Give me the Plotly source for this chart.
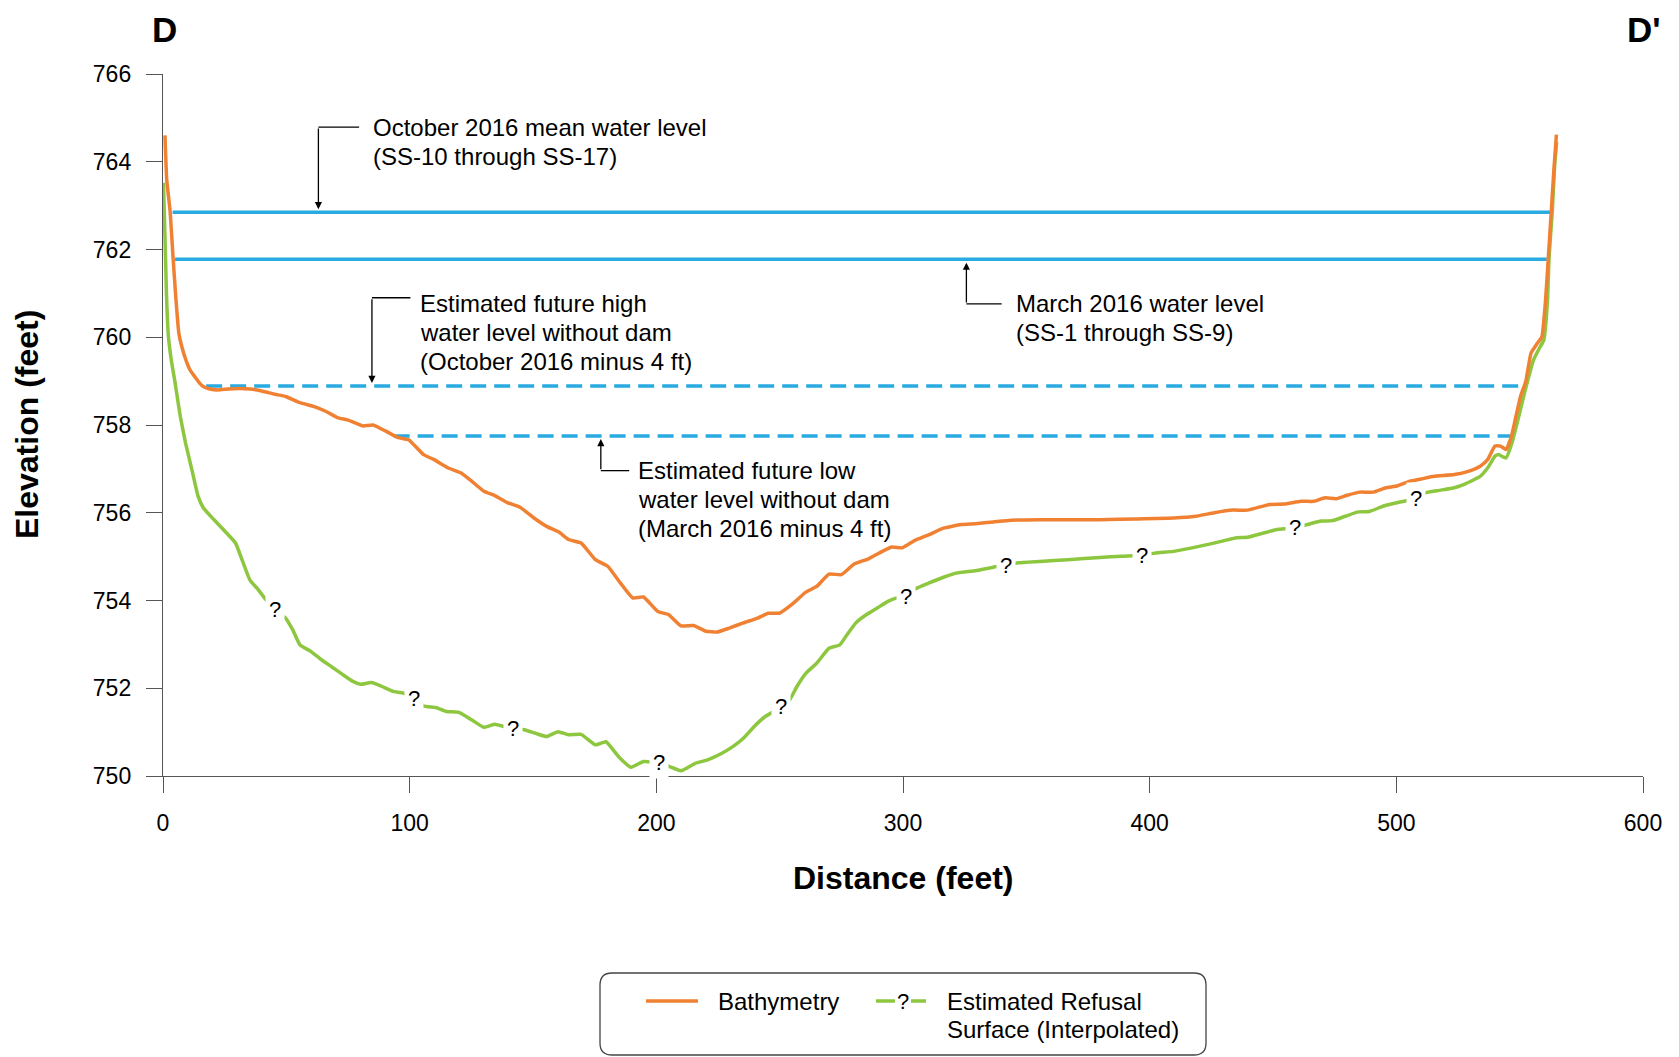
import plotly.graph_objects as go

# ---------------- data ----------------
bathy_x = [0.8, 1.5, 2.9, 4.1, 5.2, 6.4, 7.8, 9.3, 11.0, 12.9, 14.9, 16.5, 19.0, 22.3, 26.5, 31.0, 35.2,
           39.6, 45.4, 49.7, 55.5, 61.3, 65.7, 70.7, 75.1, 80.9, 85.2, 90.3, 95.4, 99.7, 105.5, 109.9,
           115.7, 120.7, 125.1, 130.1, 134.5, 139.6, 144.6, 150.4, 155.5, 160.5, 164.4, 169.5, 175.3,
           180.3, 185.4, 190.4, 194.8, 200.6, 204.9, 210.0, 215.1, 220.1, 224.5, 229.5, 235.3, 241.1,
           245.4, 249.8, 255.6, 260.6, 265.0, 270.0, 275.1, 280.2, 286.0, 290.3, 295.4, 299.7, 304.8,
           310.6, 316.4, 323.6, 329.4, 336.6, 343.8, 355.4, 369.9, 379.8, 394.8, 409.7, 418.7, 426.2,
           433.7, 439.7, 448.7, 454.6, 461.4, 466.6, 471.1, 475.6, 480.1, 485.3, 490.6, 495.8, 500.3,
           505.5, 510.0, 515.3, 523.5, 529.5, 534.0, 537.0, 540.0, 542.2, 544.5, 546.7, 548.5, 550.4,
           552.5, 554.6, 557.0, 559.0, 560.5, 561.6, 562.8, 564.0, 564.9]
bathy_y = [764.6, 763.6, 762.86, 761.8, 760.9, 760.1, 759.75, 759.48, 759.25, 759.10, 758.95, 758.87,
           758.82, 758.80, 758.82, 758.83, 758.82, 758.78, 758.70, 758.65, 758.51, 758.42, 758.32,
           758.17, 758.11, 757.98, 758.0, 757.86, 757.71, 757.66, 757.33, 757.21, 757.02, 756.91,
           756.72, 756.49, 756.39, 756.23, 756.13, 755.88, 755.69, 755.56, 755.39, 755.31, 754.93,
           754.78, 754.40, 754.06, 754.08, 753.75, 753.68, 753.42, 753.43, 753.30, 753.28, 753.37,
           753.49, 753.60, 753.71, 753.71, 753.94, 754.19, 754.32, 754.60, 754.59, 754.83, 754.95,
           755.08, 755.22, 755.20, 755.37, 755.50, 755.65, 755.73, 755.75, 755.79, 755.83, 755.84,
           755.84, 755.84, 755.86, 755.88, 755.92, 756.0, 756.06, 756.06, 756.19, 756.20, 756.26,
           756.26, 756.34, 756.32, 756.40, 756.47, 756.47, 756.57, 756.61, 756.72, 756.77, 756.83,
           756.87, 756.95, 757.06, 757.21, 757.52, 757.52, 757.44, 757.75, 758.2, 758.66, 759.0,
           759.64, 759.85, 760.01, 760.85, 761.80, 762.86, 763.92, 764.62]

refusal_x = [0.2, 0.8, 1.4, 2.1, 3.3, 4.8, 7.0, 9.1, 12.0, 14.2, 16.4, 20.7, 25.1, 29.4, 32.3, 35.2, 38.1,
             41.7, 45.4, 49.7, 52.6, 55.5, 59.9, 64.2, 68.6, 72.9, 77.2, 80.1, 84.5, 88.8, 93.2, 97.5,
             101.9, 105.5, 110.6, 114.9, 120.0, 125.1, 130.1, 134.5, 138.1, 142.0, 146.8, 151.2, 155.5,
             160.1, 164.4, 169.5, 175.3, 179.6, 184.7, 189.7, 194.8, 201.0, 205.6, 210.0, 215.8, 220.8,
             226.6, 231.0, 235.3, 239.7, 244.0, 247.6, 250.5, 254.1, 257.0, 260.6, 265.0, 270.0, 274.4,
             277.3, 280.9, 285.2, 289.6, 293.9, 297.5, 301.2, 304.8, 310.6, 316.4, 322.1, 329.4, 336.6,
             341.7, 346.7, 355.4, 367.0, 379.8, 388.8, 397.0, 402.2, 409.7, 417.2, 424.7, 430.7, 435.2,
             439.7, 445.7, 451.6, 456.1, 459.1, 465.1, 469.6, 474.1, 479.3, 484.6, 489.1, 495.1, 501.0,
             507.8, 511.5, 517.5, 523.5, 528.0, 534.0, 537.0, 540.0, 541.5, 543.0, 544.5, 546.7, 549.0,
             552.0, 555.6, 558.0, 559.8, 561.3, 561.9, 563.2, 564.2, 565.0]
refusal_y = [763.52, 762.3, 761.0, 760.09, 759.5, 759.0, 758.2, 757.6, 756.91, 756.38, 756.11, 755.84,
             755.58, 755.31, 754.89, 754.47, 754.28, 754.02, 753.79, 753.60, 753.33, 752.99, 752.84,
             752.65, 752.48, 752.31, 752.15, 752.09, 752.13, 752.04, 751.93, 751.89, 751.77, 751.60,
             751.56, 751.47, 751.45, 751.28, 751.11, 751.18, 751.13, 751.09, 751.05, 750.97, 750.90,
             751.01, 750.94, 750.95, 750.71, 750.78, 750.44, 750.20, 750.33, 750.30, 750.21, 750.12,
             750.29, 750.37, 750.52, 750.67, 750.86, 751.13, 751.35, 751.47, 751.58, 751.74, 752.04,
             752.34, 752.57, 752.91, 752.99, 753.22, 753.49, 753.68, 753.83, 753.98, 754.06, 754.10,
             754.26, 754.40, 754.53, 754.63, 754.68, 754.76, 754.80, 754.86, 754.89, 754.93, 754.98,
             755.01, 755.03, 755.08, 755.12, 755.20, 755.29, 755.37, 755.43, 755.44, 755.53, 755.62,
             755.64, 755.66, 755.75, 755.81, 755.82, 755.92, 756.02, 756.03, 756.16, 756.24, 756.32,
             756.45, 756.51, 756.57, 756.66, 756.83, 757.02, 757.29, 757.33, 757.28, 757.25, 757.56,
             758.05, 758.74, 759.48, 759.75, 759.94, 760.85, 761.80, 762.86, 763.92, 764.45]

# "?" positions on the refusal surface
qmark_x = [45.4, 101.9, 142.0, 201.0, 250.5, 301.2, 341.7, 397.0, 459.1, 507.8]
qmark_y = [753.79, 751.77, 751.09, 750.30, 751.58, 754.10, 754.80, 755.03, 755.66, 756.32]

# water levels: name, elevation, start distance, end distance, dashed
level_names = ["October 2016 mean", "March 2016", "Future high", "Future low"]
level_elev = [762.85, 761.78, 758.89, 757.75]
level_x0 = [3.9, 4.9, 17.5, 93.5]
level_x1 = [562.5, 561.0, 551.6, 546.3]
level_dash = [False, False, True, True]

x_ticks = [0, 100, 200, 300, 400, 500, 600]
y_ticks = [750, 752, 754, 756, 758, 760, 762, 764, 766]

# callouts: arrow x, arrow tip y, elbow y, elbow end x, text x, text lines
call_arrow_x = [63.0, 325.7, 84.7, 177.5]
call_tip_y = [762.92, 761.70, 758.96, 757.68]
call_elbow_y = [764.79, 760.76, 760.90, 756.96]
call_end_x = [79.5, 340.0, 100.3, 189.0]
call_text_x = [84.2, 344.8, 103.3, 191.9]
call_text_y = [764.78, 760.76, 760.76, 756.96]
call_texts = [
    ["October 2016 mean water level", "(SS-10 through SS-17)"],
    ["March 2016 water level", "(SS-1 through SS-9)"],
    ["Estimated future high", "water level without dam", "(October 2016 minus 4 ft)"],
    ["Estimated future low", "water level without dam", "(March 2016 minus 4 ft)"],
]

# ---------------- style ----------------
ORANGE = "#F08132"
GREEN = "#8DC63F"
BLUE = "#29ABE2"
FONT = "Liberation Sans, Arial, Helvetica, sans-serif"
W, H = 1679, 1057
S = 8  # page body margin offset
L, R, T, B = 163 - S, 1643 - S, 74 - S, 776 - S


def px(xp):
    return (xp - S - L) / (R - L)


def py(yp):
    return 1 - (yp - S - T) / (B - T)


fig = go.Figure()

for name, e, x0, x1, d in zip(level_names, level_elev, level_x0, level_x1, level_dash):
    fig.add_trace(go.Scatter(
        x=[x0, x1], y=[e, e], mode="lines", name=name, hoverinfo="skip",
        line=dict(color=BLUE, width=3.5, dash="16px,8px" if d else "solid"),
        showlegend=False))

fig.add_trace(go.Scatter(
    x=refusal_x, y=refusal_y, mode="lines", name="Estimated Refusal Surface (Interpolated)",
    line=dict(color=GREEN, width=3.5, shape="spline", smoothing=0.4), showlegend=False))
fig.add_trace(go.Scatter(
    x=bathy_x, y=bathy_y, mode="lines", name="Bathymetry",
    line=dict(color=ORANGE, width=3.5, shape="spline", smoothing=0.4), showlegend=False))

annotations = []
shapes = []

# question marks on refusal surface
for qx, qy in zip(qmark_x, qmark_y):
    annotations.append(dict(x=qx, y=qy, xref="x", yref="y", text="?", showarrow=False,
                            font=dict(family=FONT, size=22, color="black"),
                            bgcolor="white", borderpad=3, xanchor="center", yanchor="middle"))

# callouts
for ax_, tip, elb, ex, tx, ty, lines in zip(call_arrow_x, call_tip_y, call_elbow_y, call_end_x,
                                             call_text_x, call_text_y, call_texts):
    annotations.append(dict(x=ax_, y=tip, ax=ax_, ay=elb, xref="x", yref="y", axref="x", ayref="y",
                            text="", showarrow=True, arrowhead=2, arrowsize=1.1, arrowwidth=1.3,
                            arrowcolor="black", standoff=0, startstandoff=0))
    shapes.append(dict(type="line", xref="x", yref="y", x0=ax_, x1=ex, y0=elb, y1=elb,
                       line=dict(color="black", width=1.3)))
    for i, t in enumerate(lines):
        annotations.append(dict(x=tx, y=ty, xref="x", yref="y", text=t, showarrow=False,
                                xanchor="left", yanchor="middle", yshift=-29 * i,
                                font=dict(family=FONT, size=24, color="black")))

# section labels
annotations.append(dict(x=px(164), y=py(29), xref="paper", yref="paper", text="<b>D</b>",
                        showarrow=False, xanchor="center", yanchor="middle", borderpad=0,
                        font=dict(family=FONT, size=35, color="black")))
annotations.append(dict(x=px(1662), y=py(29), xref="paper", yref="paper", text="<b>D'</b>",
                        showarrow=False, xanchor="right", yanchor="middle", borderpad=0,
                        font=dict(family=FONT, size=35, color="black")))

# axis titles
annotations.append(dict(x=px(903), y=py(878), xref="paper", yref="paper", text="<b>Distance (feet)</b>",
                        showarrow=False, xanchor="center", yanchor="middle",
                        font=dict(family=FONT, size=32, color="black")))
annotations.append(dict(x=px(27), y=py(425), xref="paper", yref="paper", text="<b>Elevation (feet)</b>",
                        showarrow=False, xanchor="center", yanchor="middle", textangle=-90,
                        font=dict(family=FONT, size=32, color="black")))

# legend box (rounded)
lx0, lx1, ly0, ly1, rad = 600, 1206, 973, 1055, 12
rx = rad / (R - L)
ry = rad / (B - T)
X0, X1, Y0, Y1 = px(lx0), px(lx1), py(ly1), py(ly0)
path = (f"M {X0+rx},{Y1} L {X1-rx},{Y1} Q {X1},{Y1} {X1},{Y1-ry} L {X1},{Y0+ry} "
        f"Q {X1},{Y0} {X1-rx},{Y0} L {X0+rx},{Y0} Q {X0},{Y0} {X0},{Y0+ry} L {X0},{Y1-ry} "
        f"Q {X0},{Y1} {X0+rx},{Y1} Z")
shapes.append(dict(type="path", xref="paper", yref="paper", path=path,
                   line=dict(color="#444444", width=1.3), fillcolor="white", layer="below"))
shapes.append(dict(type="line", xref="paper", yref="paper", x0=px(646), x1=px(698), y0=py(1001),
                   y1=py(1001), line=dict(color=ORANGE, width=3.5)))
shapes.append(dict(type="line", xref="paper", yref="paper", x0=px(876), x1=px(895), y0=py(1001),
                   y1=py(1001), line=dict(color=GREEN, width=3.5)))
shapes.append(dict(type="line", xref="paper", yref="paper", x0=px(911), x1=px(926), y0=py(1001),
                   y1=py(1001), line=dict(color=GREEN, width=3.5)))
annotations.append(dict(x=px(903), y=py(1001), xref="paper", yref="paper", text="?", showarrow=False,
                        xanchor="center", yanchor="middle", font=dict(family=FONT, size=22, color="black")))
annotations.append(dict(x=px(716), y=py(1001), xref="paper", yref="paper", text="Bathymetry",
                        showarrow=False, xanchor="left", yanchor="middle",
                        font=dict(family=FONT, size=24, color="black")))
for i, t in enumerate(["Estimated Refusal", "Surface (Interpolated)"]):
    annotations.append(dict(x=px(945), y=py(1001 + 28 * i), xref="paper", yref="paper", text=t,
                            showarrow=False, xanchor="left", yanchor="middle",
                            font=dict(family=FONT, size=24, color="black")))

axis_common = dict(showgrid=False, zeroline=False, showline=True, linecolor="#555555", linewidth=1.4,
                   ticks="outside", ticklen=16, tickwidth=1.3, tickcolor="#555555",
                   tickfont=dict(family=FONT, size=23, color="black"), ticklabelstandoff=10)

fig.update_layout(
    width=W, height=H, margin=dict(l=L, r=W - R, t=T, b=H - B, pad=0),
    paper_bgcolor="white", plot_bgcolor="white", showlegend=False,
    xaxis=dict(range=[0, 600], tickvals=x_ticks, **axis_common),
    yaxis=dict(range=[750, 766], tickvals=y_ticks, **axis_common),
    annotations=annotations, shapes=shapes,
)

fig.write_html("out.html")
